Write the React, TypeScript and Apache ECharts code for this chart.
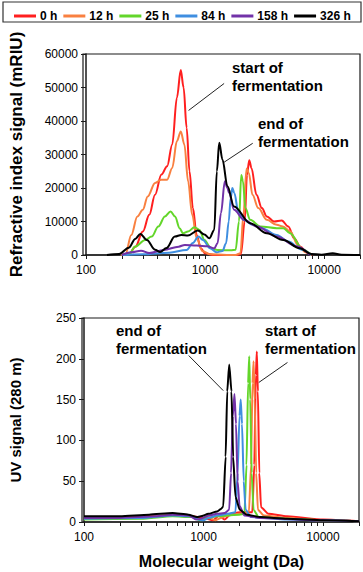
import React, { useEffect, useRef } from "react";
import * as echarts from "echarts";

const seriesNames = ["0 h", "12 h", "25 h", "84 h", "158 h", "326 h"];
const seriesColors = ["#ff1f1f", "#f98040", "#63d62a", "#3f8ee0", "#7232a8", "#000000"];

const xMajorTicks = [100, 1000, 10000];
const xMinorTicks = [100, 200, 300, 400, 500, 600, 700, 800, 900, 1000, 2000, 3000, 4000, 5000, 6000, 7000, 8000, 9000, 10000, 20000];

// Refractive index signal (mRIU) vs molecular weight (Da)
const ri0h = [[200,0],[230,300],[260,2500],[300,7000],[340,12000],[380,18000],[430,24000],[480,26500],[530,33000],[580,47000],[625,55200],[660,50000],[700,38000],[740,25000],[790,14000],[850,6000],[920,2000],[1000,500],[1200,0],[1850,0],[2000,300],[2150,10000],[2250,24000],[2350,28300],[2450,26000],[2700,18000],[3000,14000],[3300,11500],[3800,10000],[4400,10300],[5000,8500],[5600,5000],[6300,2500],[7200,700],[8000,0]];
const ri12h = [[195,0],[215,300],[240,6000],[270,11500],[300,13500],[330,17500],[380,21500],[430,22500],[480,22500],[530,26000],[580,34000],[625,36900],[670,33000],[720,22000],[780,12000],[850,5000],[950,1200],[1100,200],[1800,0],[1980,500],[2100,12000],[2230,25800],[2330,24500],[2500,18000],[2800,14000],[3300,10500],[4000,9000],[4500,8500],[5200,7000],[6000,3000],[7000,800],[7800,0]];
const ri25h = [[200,0],[230,200],[259,2500],[314,4500],[356,5500],[405,8500],[460,11500],[513,13000],[560,11500],[610,8000],[653,6500],[718,7000],[816,8300],[897,7500],[987,4500],[1122,2000],[1273,1500],[1641,1400],[1806,1600],[1926,10000],[2013,23900],[2080,22000],[2180,14000],[2392,10500],[2911,8500],[3996,8000],[4538,8000],[5160,6500],[6653,1600],[7800,0]];
const ri84h = [[200,0],[300,200],[500,700],[700,1500],[790,3600],[880,5500],[960,4500],[1100,2000],[1250,800],[1400,1200],[1500,3500],[1580,10000],[1640,17000],[1694,20000],[1760,18500],[1900,13000],[2100,10500],[2500,9000],[3000,8000],[4000,6000],[5000,4000],[6500,1600],[7800,0]];
const ri158h = [[200,0],[240,800],[290,1300],[340,600],[450,1500],[600,2500],[675,3000],[850,2800],[1052,2600],[1194,2000],[1273,3500],[1359,12500],[1466,22000],[1540,20000],[1591,18500],[1750,13500],[2119,10500],[2730,8500],[3996,5500],[5860,2600],[7600,0]];
const ri326h = [[150,0],[190,300],[229,2200],[259,4800],[286,6300],[324,4500],[380,1600],[419,900],[475,2100],[557,5500],[632,6000],[718,5800],[869,7300],[987,6100],[1086,5000],[1194,7500],[1256,25000],[1315,33500],[1399,28500],[1541,20500],[1750,14500],[2392,9500],[3303,6500],[4538,4500],[6247,2000],[7800,300],[9500,100],[11800,500],[14000,100],[20000,0]];

// UV signal (280 nm) vs molecular weight (Da)
const uv0h = [[100,5],[250,6],[500,8],[800,7],[1000,5],[1200,2],[1350,8],[1500,3],[1700,10],[2000,12],[2300,12],[2560,12],[2660,70],[2740,180],[2793,209],[2850,160],[2930,60],[3030,18],[3500,10],[5000,7],[10000,3],[20000,1]];
const uv12h = [[100,6],[300,6],[550,8],[800,7],[950,3],[1100,6],[1250,2],[1400,5],[1600,8],[2000,10],[2300,11],[2400,12],[2500,70],[2570,170],[2624,197],[2680,150],[2760,60],[2850,15],[3200,8],[5000,5],[10000,2],[20000,1]];
const uv25h = [[100,3],[300,4],[550,7],[800,6],[950,2],[1100,5],[1300,7],[1600,8],[2000,9],[2200,10],[2290,70],[2360,170],[2414,203],[2460,150],[2530,60],[2620,15],[2900,6],[5000,4],[10000,2],[20000,1]];
const uv84h = [[100,4],[300,5],[550,8],[800,7],[900,3],[1000,2],[1100,5],[1300,8],[1600,10],[1850,12],[1930,60],[2000,130],[2048,150],[2100,120],[2170,50],[2250,15],[2500,6],[5000,3],[10000,2],[20000,1]];
const uv158h = [[100,5],[200,5],[400,7],[550,9],[750,8],[870,3],[950,4],[1100,8],[1300,10],[1500,11],[1640,15],[1700,60],[1760,130],[1815,157],[1870,120],[1930,50],[2000,20],[2200,8],[3000,5],[10000,2],[20000,1]];
const uv326h = [[100,7],[200,7],[350,9],[550,11],[750,9],[880,6],[950,7],[1100,10],[1300,13],[1400,16],[1462,19],[1531,80],[1579,160],[1641,193],[1714,160],[1770,80],[1850,31],[2010,15],[2300,9],[3000,6],[5000,4],[10000,2],[20000,1]];

const riData = [ri0h, ri12h, ri25h, ri84h, ri158h, ri326h];
const uvData = [uv0h, uv12h, uv25h, uv84h, uv158h, uv326h];

// annotation arrows in data coordinates [from, to]
const riArrows = [[[1445, 51200], [727, 43150]], [[2513, 33350], [1445, 27700]]];
const uvArrows = [[[752, 204], [1463, 161]], [[5040, 195.5], [2903, 171]]];

const FONT = "Liberation Sans, Arial, sans-serif";
const AXIS_COLOR = "#1a1a1a";
const plain = (v: number) => String(Math.round(v));

function makeXAxis(gridIndex: number, withName: boolean) {
  return {
    type: "log",
    logBase: 10,
    gridIndex,
    min: 100,
    max: 20000,
    name: withName ? "Molecular weight (Da)" : "",
    nameLocation: "middle",
    nameGap: 31,
    nameTextStyle: { fontFamily: FONT, fontSize: 16, fontWeight: "bold", color: "#000" },
    axisLine: { show: true, onZero: false, lineStyle: { color: AXIS_COLOR, width: 1.5 } },
    axisTick: { show: true, inside: false, length: 4, customValues: xMinorTicks, lineStyle: { color: AXIS_COLOR, width: 1 } },
    axisLabel: { customValues: xMajorTicks, formatter: plain, fontFamily: FONT, fontSize: 12, color: "#000", margin: 9 },
    splitLine: { show: false },
    minorTick: { show: false },
  };
}

function makeYAxis(gridIndex: number, name: string, max: number, interval: number, nameSize: number) {
  return {
    type: "value",
    gridIndex,
    min: 0,
    max,
    interval,
    name,
    nameLocation: "middle",
    nameGap: 61,
    nameTextStyle: { fontFamily: FONT, fontSize: nameSize, fontWeight: "bold", color: "#000" },
    axisLine: { show: true, lineStyle: { color: AXIS_COLOR, width: 1.5 } },
    axisTick: { show: true, inside: false, length: 5, lineStyle: { color: AXIS_COLOR, width: 1 } },
    axisLabel: { formatter: plain, fontFamily: FONT, fontSize: 12, color: "#000", margin: 8 },
    splitLine: { show: false },
  };
}

function arrowMarkLine(arrows: number[][][]) {
  return {
    silent: true,
    symbol: ["none", "arrow"],
    symbolSize: [0, 11],
    label: { show: false },
    lineStyle: { color: "#222", width: 1, type: "solid" },
    emphasis: { disabled: true },
    data: arrows.map((a) => [{ coord: a[0] }, { coord: a[1] }]),
  };
}

export default function App() {
  const ref = useRef<HTMLDivElement>(null);
  useEffect(() => {
    if (!ref.current) return;
    const chart = echarts.init(ref.current, null, { renderer: "svg" });
    const series: any[] = [];
    riData.forEach((d, i) => {
      series.push({
        name: seriesNames[i],
        type: "line",
        xAxisIndex: 0,
        yAxisIndex: 0,
        data: d,
        smooth: 0.35,
        smoothMonotone: "x",
        symbol: "none",
        lineStyle: { color: seriesColors[i], width: 2 },
        itemStyle: { color: seriesColors[i] },
        markLine: i === 5 ? arrowMarkLine(riArrows) : undefined,
      });
    });
    uvData.forEach((d, i) => {
      series.push({
        name: seriesNames[i],
        type: "line",
        xAxisIndex: 1,
        yAxisIndex: 1,
        data: d,
        smooth: 0.2,
        smoothMonotone: "x",
        symbol: "none",
        lineStyle: { color: seriesColors[i], width: 2 },
        itemStyle: { color: seriesColors[i] },
        markLine: i === 5 ? arrowMarkLine(uvArrows) : undefined,
      });
    });
    const textStyle = { fontFamily: FONT, fontSize: 15, fontWeight: "bold", fill: "#000", lineHeight: 18 };
    chart.setOption({
      animation: false,
      backgroundColor: "#fff",
      legend: {
        data: seriesNames,
        left: 9,
        top: 5,
        width: 360,
        icon: "rect",
        itemWidth: 22,
        itemHeight: 3,
        itemGap: 6,
        textStyle: { fontFamily: FONT, fontSize: 12, fontWeight: "bold", color: "#000", padding: [0, 0, 0, -1] },
        selectedMode: false,
      },
      grid: [
        { left: 83, top: 54, right: 3, height: 201 },
        { left: 82, top: 318, right: 4, height: 204 },
      ],
      xAxis: [makeXAxis(0, false), makeXAxis(1, true)],
      yAxis: [
        makeYAxis(0, "Refractive index signal (mRIU)", 60000, 10000, 17),
        makeYAxis(1, "UV signal (280 m)", 250, 50, 15),
      ],
      graphic: [
        { type: "rect", shape: { x: 3, y: 2, width: 358, height: 20 }, style: { fill: "none", stroke: "#333", lineWidth: 1.2 }, silent: true },
        { type: "rect", shape: { x: 83, y: 54, width: 277, height: 201 }, style: { fill: "none", stroke: AXIS_COLOR, lineWidth: 1.2 }, silent: true },
        { type: "rect", shape: { x: 82, y: 318, width: 277, height: 204 }, style: { fill: "none", stroke: AXIS_COLOR, lineWidth: 1.2 }, silent: true },
        { type: "text", x: 232, y: 58, style: { ...textStyle, text: "start of\nfermentation", verticalAlign: "top" } },
        { type: "text", x: 258, y: 114, style: { ...textStyle, text: "end of\nfermentation", verticalAlign: "top" } },
        { type: "text", x: 116, y: 321, style: { ...textStyle, text: "end of\nfermentation", verticalAlign: "top" } },
        { type: "text", x: 265, y: 321, style: { ...textStyle, text: "start of\nfermentation", verticalAlign: "top" } },
      ],
      series,
    });
    return () => chart.dispose();
  }, []);
  return <div ref={ref} style={{ position: "fixed", left: 0, top: 0, width: 363, height: 572 }} />;
}
